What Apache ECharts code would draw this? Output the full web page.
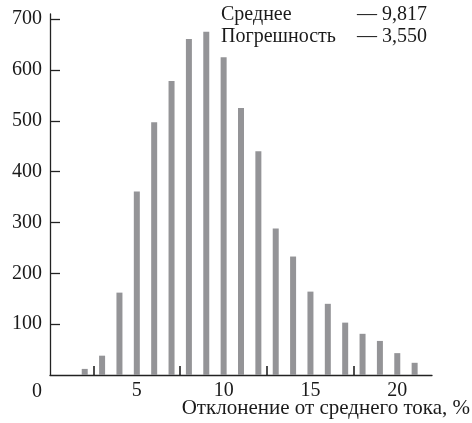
<!DOCTYPE html>
<html>
<head>
<meta charset="utf-8">
<script src="https://cdn.jsdelivr.net/npm/echarts@6/dist/echarts.min.js"></script>
<style>
html,body{margin:0;padding:0;background:#fff;}
#chart{width:472px;height:423px;}
</style>
</head>
<body>
<div id="chart"></div>
<script>
// Data
var deviation = [2, 3, 4, 5, 6, 7, 8, 9, 10, 11, 12, 13, 14, 15, 16, 17, 18, 19, 20, 21];
var counts = [12, 38, 162, 361, 497, 578, 661, 675, 625, 525, 440, 288, 233, 164, 140, 103, 81, 67, 43, 24];
var xTickValues = [2.5, 5, 7.5, 10, 12.5, 15, 17.5, 20];
var xLabelValues = [5, 10, 15, 20];
var yTickValues = [100, 200, 300, 400, 500, 600, 700];
var yLabelValues = [0, 100, 200, 300, 400, 500, 600, 700];
var statNames = ['Среднее', 'Погрешность'];
var statValues = ['9,817', '3,550'];
var xAxisTitle = 'Отклонение от среднего тока, %';

var FONT = 'Liberation Serif';
var INK = '#1a1a1a';
var chart = echarts.init(document.getElementById('chart'), null, {renderer: 'canvas'});

var statText = statNames.map(function (n, i) {
  return '{a|' + n + '}{b|— ' + statValues[i] + '}';
}).join('\n');

chart.setOption({
  animation: false,
  backgroundColor: '#fff',
  title: [{
    left: 221, top: 4, padding: 0,
    text: statText,
    textStyle: {
      fontFamily: FONT, fontWeight: 'normal', fontSize: 20,
      rich: {
        a: {fontFamily: FONT, fontWeight: 'normal', fontSize: 20, color: INK, width: 136, lineHeight: 22},
        b: {fontFamily: FONT, fontWeight: 'normal', fontSize: 20, color: INK, lineHeight: 22}
      }
    }
  }, {
    right: 2, top: 398, padding: 0,
    text: xAxisTitle,
    textStyle: {fontFamily: FONT, fontWeight: 'normal', fontSize: 21, color: INK, lineHeight: 21}
  }],
  grid: {left: 50, right: 40, top: 14, bottom: 48, containLabel: false, outerBoundsMode: 'none'},
  xAxis: {
    type: 'value', min: 0, max: 22, interval: 5,
    axisLine: {lineStyle: {color: '#222', width: 1.3}},
    axisTick: {show: true, inside: true, length: 9, customValues: xTickValues, lineStyle: {color: '#222', width: 1.6}},
    axisLabel: {customValues: xLabelValues, margin: 6, fontFamily: FONT, fontSize: 20, color: INK},
    splitLine: {show: false}
  },
  yAxis: {
    type: 'value', min: 0, max: 710, interval: 100,
    axisLine: {show: true, lineStyle: {color: '#222', width: 1.3}},
    axisTick: {show: true, inside: true, length: 10, customValues: yTickValues, lineStyle: {color: '#222', width: 1.3}},
    axisLabel: {
      customValues: yLabelValues, margin: 8, fontFamily: FONT, fontSize: 20, color: INK,
      formatter: function (v) { return v === 0 ? '{z|0}' : String(v); },
      rich: {z: {fontFamily: FONT, fontSize: 20, color: INK, padding: [33, 0, 0, 0]}}
    },
    splitLine: {show: false}
  },
  series: [{
    type: 'bar',
    barWidth: 6,
    itemStyle: {color: '#949497'},
    data: deviation.map(function (x, i) { return [x, counts[i]]; })
  }]
});
</script>
</body>
</html>
